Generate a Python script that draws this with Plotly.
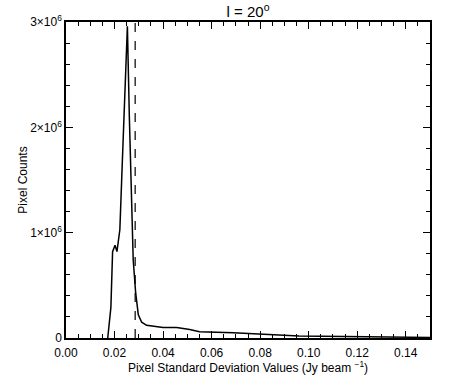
import plotly.graph_objects as go

# histogram curve
std_vals = [0.0172, 0.0185, 0.0192, 0.0202, 0.0210, 0.0222, 0.0234, 0.0243, 0.0253,
            0.0261, 0.0270, 0.0277, 0.0287, 0.0298, 0.0312, 0.0332, 0.0400, 0.0456,
            0.0510, 0.0550, 0.0690, 0.0800, 0.0960, 0.1240, 0.1500]
pixel_counts = [0, 0.29e6, 0.82e6, 0.88e6, 0.82e6, 1.03e6, 1.79e6, 2.42e6, 2.96e6,
                2.10e6, 1.31e6, 0.74e6, 0.43e6, 0.22e6, 0.15e6, 0.12e6, 0.10e6, 0.10e6,
                0.08e6, 0.06e6, 0.05e6, 0.035e6, 0.02e6, 0.012e6, 0.005e6]
cut_value = 0.0285

y_tickvals = [0, 1e6, 2e6, 3e6]
y_ticktext = ["0", "1×10<sup>6</sup>", "2×10<sup>6</sup>", "3×10<sup>6</sup>"]

fig = go.Figure()
fig.add_trace(go.Scatter(x=std_vals, y=pixel_counts, mode="lines",
                         line=dict(color="black", width=1.5), showlegend=False))
fig.add_trace(go.Scatter(x=[cut_value, cut_value], y=[0, 3e6], mode="lines",
                         line=dict(color="black", width=1.2, dash="dash"),
                         showlegend=False))

axis_style = dict(showline=True, linecolor="black", linewidth=1.5, mirror="ticks",
                  ticks="inside", tickcolor="black", tickwidth=1, ticklen=7,
                  showgrid=False, zeroline=False, automargin=False,
                  tickfont=dict(size=12, color="black"))

fig.update_xaxes(range=[0, 0.15], dtick=0.02, tick0=0, tickformat=".2f",
                 ticklabelstandoff=3,
                 minor=dict(ticks="inside", dtick=0.005, ticklen=4, tickcolor="black"),
                 title=dict(text="Pixel Standard Deviation Values (Jy beam <sup>−1</sup>)",
                            font=dict(size=12, color="black"), standoff=0),
                 **axis_style)
fig.update_yaxes(range=[0, 3e6], tickvals=y_tickvals, ticktext=y_ticktext,
                 minor=dict(ticks="inside", dtick=2e5, ticklen=4, tickcolor="black"),
                 title=dict(text="Pixel Counts", font=dict(size=12, color="black"),
                            standoff=0),
                 **axis_style)

fig.update_layout(
    width=450, height=375,
    margin=dict(l=66, r=20, t=22, b=37),
    plot_bgcolor="white", paper_bgcolor="white",
    font=dict(family="Liberation Sans, Arial, sans-serif", color="black"),
    title=dict(text="l = 20<sup>o</sup>", x=0.5, xref="paper", xanchor="center",
               y=1, yref="paper", yanchor="bottom", pad=dict(b=5),
               font=dict(size=15, color="black")),
)

# drop the default page margin so the figure sits at the window's corner
fig.write_html("out.html", config={"displayModeBar": False},
               post_script="document.body.style.margin='0';")
